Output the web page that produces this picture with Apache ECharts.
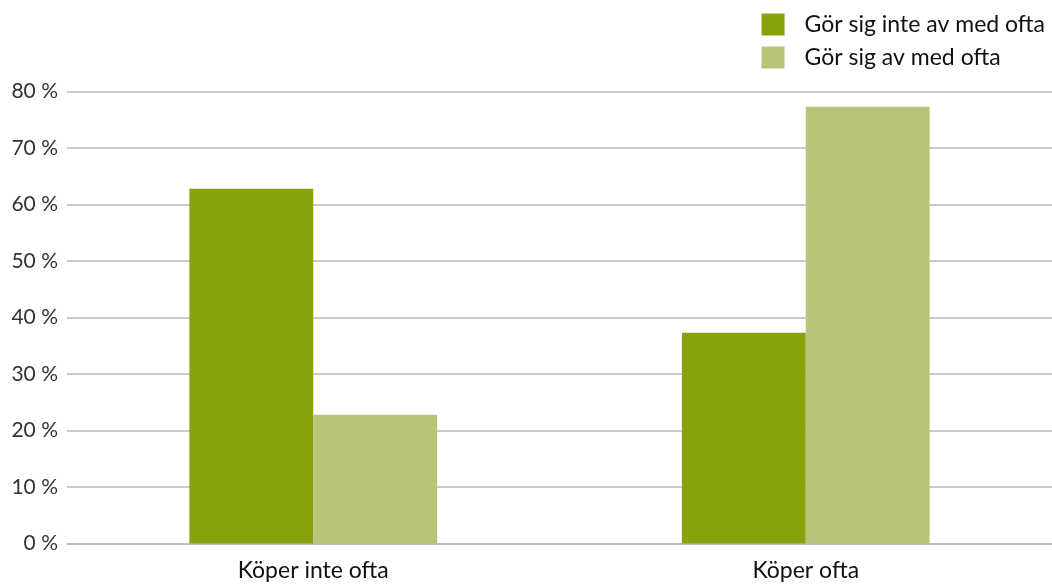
<!DOCTYPE html>
<html>
<head>
<meta charset="utf-8">
<script src="https://cdn.jsdelivr.net/npm/echarts@6/dist/echarts.min.js"></script>
<style>
  html, body { margin: 0; padding: 0; background: #fff; }
  #chart { width: 1052px; height: 586px; }
</style>
</head>
<body>
<div id="chart"></div>
<script>
// Shopping frequency groups and the share (%) in each behaviour group
const categories = ['Köper inte ofta', 'Köper ofta'];
const seriesNames = ['Gör sig inte av med ofta', 'Gör sig av med ofta'];
const notOften = [62.8, 37.3];
const often = [22.8, 77.3];
const seriesColors = ['#86a20c', '#b8c576'];

const font = 'Lato, "Open Sans", sans-serif';

const chart = echarts.init(document.getElementById('chart'));
chart.setOption({
  animation: false,
  backgroundColor: '#ffffff',
  textStyle: { fontFamily: font },
  legend: {
    orient: 'vertical',
    right: 2,
    top: 8,
    itemWidth: 23,
    itemHeight: 22,
    itemGap: 10,
    icon: 'rect',
    textStyle: { fontSize: 23, color: '#111', fontFamily: font, lineHeight: 22, padding: [0, 0, 0, 15] },
    data: seriesNames
  },
  grid: { left: 67, right: 0, top: 91.5, bottom: 42.5, containLabel: false },
  xAxis: {
    type: 'category',
    data: categories,
    axisLine: { show: true, lineStyle: { color: '#b8b8b8', width: 1.5 } },
    axisTick: { show: false },
    axisLabel: { fontSize: 23, color: '#111', margin: 16, fontFamily: font }
  },
  yAxis: {
    type: 'value',
    min: 0,
    max: 80,
    interval: 10,
    axisLine: { show: false },
    axisTick: { show: false },
    splitLine: { lineStyle: { color: '#b8b8b8', width: 1.5 } },
    axisLabel: { formatter: '{value} %', fontSize: 21, color: '#333', margin: 9, fontFamily: font }
  },
  series: [
    {
      name: seriesNames[0],
      type: 'bar',
      data: notOften,
      barGap: '0%',
      barCategoryGap: '49.7%',
      itemStyle: { color: seriesColors[0] }
    },
    {
      name: seriesNames[1],
      type: 'bar',
      data: often,
      barGap: '0%',
      barCategoryGap: '49.7%',
      itemStyle: { color: seriesColors[1] }
    }
  ]
});
</script>
</body>
</html>
